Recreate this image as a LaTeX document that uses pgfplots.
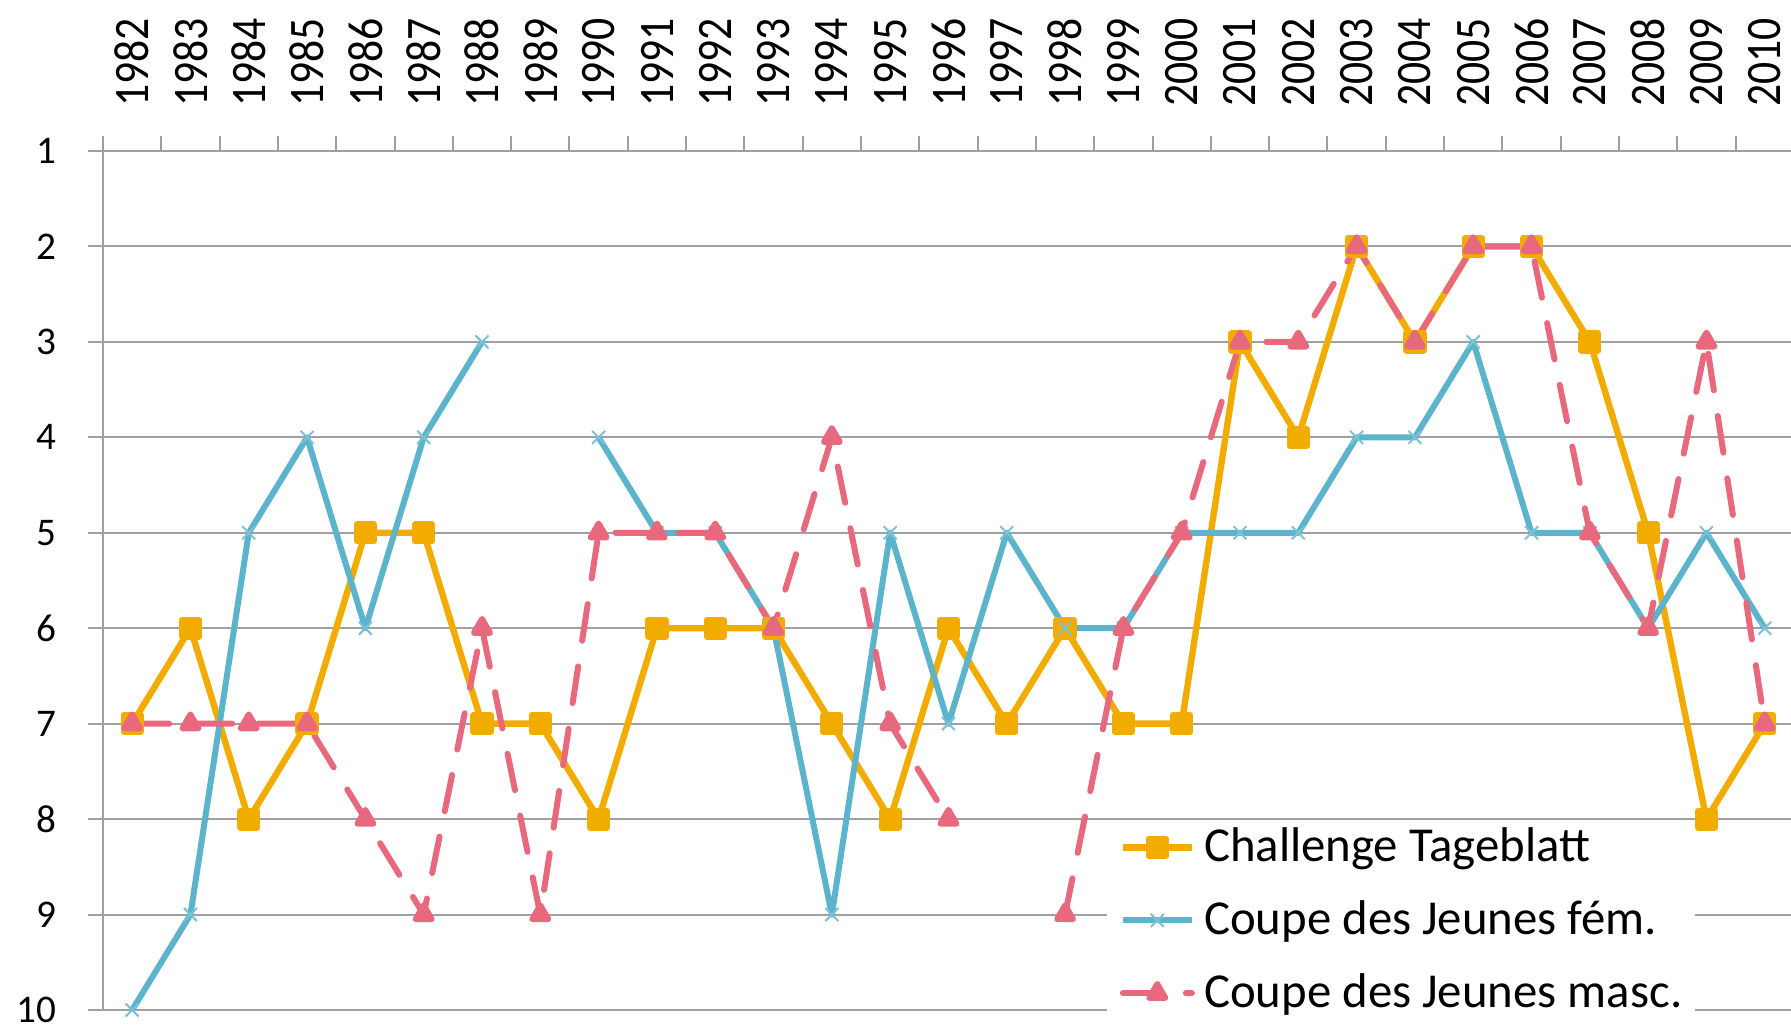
\documentclass[border=0pt]{standalone}
\usepackage{fontspec}
\setmainfont{Carlito}
\newfontfamily\xfont[FakeStretch=0.88]{Carlito}
\usepackage{pgfplots}
\pgfplotsset{compat=1.18}
\definecolor{cOr}{RGB}{242,172,0}
\definecolor{cBl}{RGB}{91,179,204}
\definecolor{cPk}{RGB}{232,105,125}
\definecolor{cGr}{RGB}{160,160,160}
\begin{document}
\begin{tikzpicture}
\useasboundingbox (-25.75pt,-4.5pt) rectangle (422pt,252.5pt);
\begin{axis}[
  scale only axis, width=422pt, height=214.75pt,
  at={(0,0)}, anchor=south west,
  xmin=-0.5, xmax=28.45, ymin=1, ymax=10, y dir=reverse,
  unbounded coords=jump,
  separate axis lines,
  axis x line*=top, axis y line*=left,
  axis line style={cGr, line width=0.5pt},
  tick align=outside,
  major tick length=3.75pt, minor tick length=3.75pt,
  xtick={0,...,28},
  xticklabels={1982,1983,1984,1985,1986,1987,1988,1989,1990,1991,1992,1993,1994,1995,1996,1997,1998,1999,2000,2001,2002,2003,2004,2005,2006,2007,2008,2009,2010},
  minor xtick={-0.5,0.5,...,27.5},
  major x tick style={draw=none},
  minor x tick style={cGr, line width=0.5pt},
  ytick={1,...,10},
  yticklabels={1,2,3,4,5,6,7,8,9,10},
  y tick style={cGr, line width=0.5pt},
  ymajorgrids, grid style={cGr, line width=0.5pt},
  xticklabel style={rotate=90, anchor=west, inner xsep=7.1pt, inner ysep=0pt, font=\xfont\fontsize{12.4}{14}\selectfont},
  yticklabel style={anchor=east, inner xsep=7.75pt, inner ysep=0pt, font=\fontsize{9.8}{12}\selectfont},
  legend style={at={(axis cs:16.7,10.105)}, anchor=south west, draw=none, fill=white,
    font=\fontsize{12.2}{14}\selectfont, inner xsep=3.25pt, inner ysep=1.5pt, row sep=8.25pt,
    column sep=2.25pt, nodes={inner sep=0pt}},
  legend cell align=left,
  legend image code/.code={\draw[mark repeat=2,mark phase=2,#1] plot coordinates {(0pt,0pt)(8.6pt,0pt)(17.25pt,0pt)};},
]
\addplot[cOr, line width=1.6pt, line join=round, mark=square*, mark size=2.1pt, mark options={solid}] coordinates {
(0,7)(1,6)(2,8)(3,7)(4,5)(5,5)(6,7)(7,7)(8,8)(9,6)(10,6)(11,6)(12,7)(13,8)(14,6)(15,7)(16,6)(17,7)(18,7)(19,3)(20,4)(21,2)(22,3)(23,2)(24,2)(25,3)(26,5)(27,8)(28,7)};
\addlegendentry{Challenge Tageblatt}
\addplot[cBl, line width=1.5pt, line join=round, mark=x, mark size=2.3pt, mark options={solid, line width=0.5pt, draw=cBl!80}] coordinates {
(0,10)(1,9)(2,5)(3,4)(4,6)(5,4)(6,3)(7,nan)(8,4)(9,5)(10,5)(11,6)(12,9)(13,5)(14,7)(15,5)(16,6)(17,6)(18,5)(19,5)(20,5)(21,4)(22,4)(23,3)(24,5)(25,5)(26,6)(27,5)(28,6)};
\addlegendentry{Coupe des Jeunes fém.}
\addplot[cPk, line width=1.5pt, line cap=round, line join=round, dash pattern=on 9.25pt off 6.5pt, mark=triangle*, mark size=2.3pt, mark options={solid}] coordinates {
(0,7)(1,7)(2,7)(3,7)(4,8)(5,9)(6,6)(7,9)(8,5)(9,5)(10,5)(11,6)(12,4)(13,7)(14,8)(15,nan)(16,9)(17,6)(18,5)(19,3)(20,3)(21,2)(22,3)(23,2)(24,2)(25,5)(26,6)(27,3)(28,7)};
\addlegendentry{Coupe des Jeunes masc.}
\end{axis}
\end{tikzpicture}
\end{document}
